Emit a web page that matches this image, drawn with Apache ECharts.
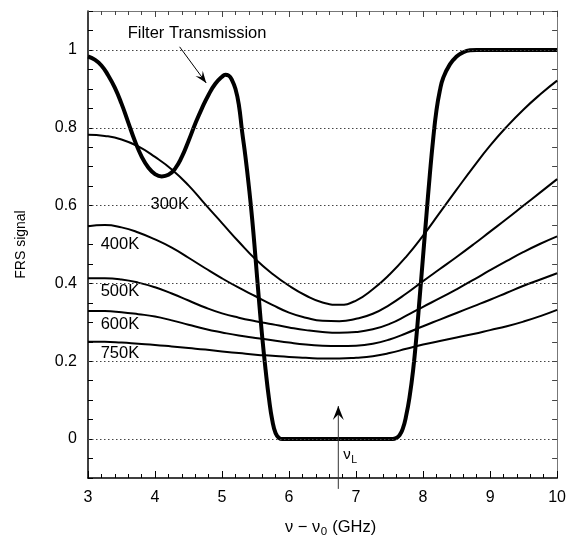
<!DOCTYPE html>
<html>
<head>
<meta charset="utf-8">
<script src="https://cdn.jsdelivr.net/npm/echarts@6/dist/echarts.min.js"></script>
<style>
  html, body { margin: 0; padding: 0; background: #fff; }
  #main { width: 569px; height: 545px; }
</style>
</head>
<body>
<div id="main"></div>
<script>
// temperature curves, read every 0.25 GHz
const tempX = [3, 3.25, 3.5, 3.75, 4, 4.25, 4.5, 4.75, 5, 5.25, 5.5, 5.75, 6, 6.25, 6.5, 6.75,
  7, 7.25, 7.5, 7.75, 8, 8.25, 8.5, 8.75, 9, 9.25, 9.5, 9.75, 10];
const k300 = [0.782, 0.779, 0.77, 0.752, 0.725, 0.693, 0.652, 0.603, 0.555, 0.507, 0.462, 0.425, 0.394, 0.369, 0.351, 0.345,
  0.356, 0.385, 0.423, 0.469, 0.523, 0.582, 0.641, 0.699, 0.754, 0.803, 0.847, 0.886, 0.921];
const k400 = [0.547, 0.55, 0.544, 0.531, 0.513, 0.492, 0.466, 0.439, 0.413, 0.389, 0.367, 0.345, 0.325, 0.312, 0.304, 0.303,
  0.309, 0.322, 0.345, 0.374, 0.406, 0.437, 0.468, 0.5, 0.533, 0.566, 0.6, 0.634, 0.668];
const k500 = [0.413, 0.413, 0.41, 0.402, 0.39, 0.374, 0.356, 0.338, 0.323, 0.312, 0.303, 0.295, 0.287, 0.28, 0.275, 0.273,
  0.275, 0.282, 0.296, 0.317, 0.34, 0.362, 0.385, 0.409, 0.434, 0.458, 0.481, 0.502, 0.521];
const k600 = [0.329, 0.329, 0.326, 0.321, 0.315, 0.305, 0.294, 0.283, 0.274, 0.266, 0.26, 0.254, 0.248, 0.243, 0.24, 0.239,
  0.24, 0.245, 0.256, 0.272, 0.29, 0.307, 0.324, 0.341, 0.358, 0.376, 0.394, 0.41, 0.426];
const k750 = [0.25, 0.25, 0.248, 0.245, 0.242, 0.238, 0.234, 0.23, 0.225, 0.221, 0.217, 0.214, 0.211, 0.209, 0.207, 0.207,
  0.209, 0.213, 0.221, 0.232, 0.243, 0.252, 0.261, 0.27, 0.28, 0.29, 0.302, 0.316, 0.332];

// filter transmission
const filterX = [3, 3.1, 3.2, 3.3, 3.4, 3.5, 3.6, 3.7, 3.8, 3.9, 4, 4.1, 4.2, 4.3, 4.4, 4.5, 4.6, 4.7, 4.8, 4.9,
  5, 5.05, 5.1, 5.15, 5.2, 5.25, 5.3, 5.35, 5.4, 5.45, 5.5, 5.55, 5.6, 5.65, 5.7, 5.75, 5.8, 5.85, 5.9, 6,
  7.5, 7.55, 7.6, 7.65, 7.7, 7.75, 7.8, 7.85, 7.9, 7.95, 8, 8.05, 8.1, 8.15, 8.2, 8.25, 8.3, 8.4, 8.5, 8.6, 8.7, 8.8, 9, 10];
const filterY = [0.983, 0.975, 0.96, 0.935, 0.903, 0.862, 0.814, 0.766, 0.726, 0.698, 0.681, 0.675, 0.679, 0.695, 0.725, 0.766, 0.81, 0.85, 0.885, 0.913,
  0.931, 0.936, 0.934, 0.922, 0.9, 0.86, 0.79, 0.725, 0.65, 0.565, 0.465, 0.36, 0.262, 0.178, 0.105, 0.048, 0.015, 0.003, 0, 0,
  0, 0, 0.003, 0.01, 0.028, 0.062, 0.11, 0.175, 0.262, 0.365, 0.47, 0.575, 0.678, 0.77, 0.845, 0.895, 0.928, 0.963, 0.983, 0.994, 0.999, 1, 1, 1];

const yTickValues = [0, 0.2, 0.4, 0.6, 0.8, 1];
const yTickLabels = ['0', '0.2', '0.4', '0.6', '0.8', '1'];
const tempNames = ['300K', '400K', '500K', '600K', '750K'];

const FONT = '"Liberation Sans", Arial, Helvetica, sans-serif';
const pts = (xs, ys) => xs.map((x, i) => [x, ys[i]]);

const chart = echarts.init(document.getElementById('main'));

const xCommon = { type: 'value', min: 3, max: 10, interval: 1, splitLine: { show: false } };
const yCommon = { type: 'value', min: -0.1, max: 1.1, interval: 0.05, splitLine: { show: false } };

const thin = (name, data) => ({
  name, type: 'line', data: pts(tempX, data), smooth: true, symbol: 'none', z: 3,
  lineStyle: { color: '#000', width: 2 }
});

chart.setOption({
  animation: false,
  grid: { left: 88, right: 10, top: 11, bottom: 67 },
  xAxis: [{
    ...xCommon,
    axisLine: { onZero: false, lineStyle: { color: '#000', width: 1.5 } },
    axisTick: { inside: true, length: 7, lineStyle: { color: '#000' } },
    minorTick: { show: true, splitNumber: 5, length: 4, lineStyle: { color: '#000' } },
    axisLabel: { color: '#000', fontSize: 16, fontFamily: FONT, margin: 12 }
  }, {
    ...xCommon, position: 'top',
    axisLine: { onZero: false, lineStyle: { color: '#777', width: 1 } },
    axisTick: { inside: true, length: 6, lineStyle: { color: '#444' } },
    minorTick: { show: true, splitNumber: 5, length: 4, lineStyle: { color: '#444' } },
    axisLabel: { show: false }
  }],
  yAxis: [{
    ...yCommon,
    name: 'FRS signal', nameLocation: 'middle', nameGap: 60, nameRotate: 90,
    nameTextStyle: { color: '#000', fontSize: 14, fontFamily: FONT },
    axisLine: { show: true, onZero: false, lineStyle: { color: '#000', width: 1.5 } },
    axisTick: { show: true, inside: true, length: 5, lineStyle: { color: '#000' } },
    axisLabel: {
      color: '#000', fontSize: 16, fontFamily: FONT, margin: 11,
      formatter: v => {
        const i = yTickValues.findIndex(t => Math.abs(t - v) < 1e-6);
        return i >= 0 ? yTickLabels[i] : '';
      }
    }
  }, {
    ...yCommon, position: 'right',
    axisLine: { show: true, onZero: false, lineStyle: { color: '#777', width: 1 } },
    axisTick: { show: true, inside: true, length: 5, lineStyle: { color: '#444' } },
    axisLabel: { show: false }
  }],
  series: [
    {
      name: 'grid', type: 'line', data: [], z: 1, silent: true,
      markLine: {
        silent: true, symbol: 'none', label: { show: false },
        lineStyle: { color: '#444', width: 1, type: [1.5, 2.5] },
        data: yTickValues.map(v => ({ yAxis: v }))
      }
    },
    thin(tempNames[0], k300),
    thin(tempNames[1], k400),
    thin(tempNames[2], k500),
    thin(tempNames[3], k600),
    thin(tempNames[4], k750),
    {
      name: 'Filter Transmission', type: 'line', data: pts(filterX, filterY), smooth: true,
      symbol: 'none', z: 4, lineStyle: { color: '#000', width: 4 }
    }
  ]
});

// annotations, anchored in data coordinates
const toPx = (x, y) => chart.convertToPixel({ xAxisIndex: 0, yAxisIndex: 0 }, [x, y]);
const ctx = document.createElement('canvas').getContext('2d');
const textW = (t, font) => { ctx.font = font; return ctx.measureText(t).width; };

function arrowHead(tip, from, len, half, notch) {
  const dx = tip[0] - from[0], dy = tip[1] - from[1];
  const d = Math.hypot(dx, dy), ux = dx / d, uy = dy / d, nx = -uy, ny = ux;
  const bx = tip[0] - ux * len, by = tip[1] - uy * len;
  return {
    type: 'polygon', z: 10,
    shape: { points: [tip, [bx + nx * half, by + ny * half], [tip[0] - ux * len * notch, tip[1] - uy * len * notch], [bx - nx * half, by - ny * half]] },
    style: { fill: '#000' }
  };
}
const txt = (text, p, size, align) => ({
  type: 'text', x: p[0], y: p[1], z: 10,
  style: { text, fill: '#000', font: size + 'px ' + FONT, textAlign: align || 'center', textVerticalAlign: 'middle' }
});

const labelPos = [[4.22, 0.603], [3.476, 0.5], [3.476, 0.38], [3.476, 0.295], [3.476, 0.22]];
const elements = tempNames.map((n, i) => txt(n, toPx(labelPos[i][0], labelPos[i][1]), 16.5));

// filter transmission label and arrow
elements.push(txt('Filter Transmission', toPx(4.627, 1.043), 16.5));
const fFrom = toPx(4.367, 1.008), fTip = toPx(4.764, 0.915);
elements.push({ type: 'line', z: 10, shape: { x1: fFrom[0], y1: fFrom[1], x2: fTip[0], y2: fTip[1] }, style: { stroke: '#000', lineWidth: 1 } });
elements.push(arrowHead(fTip, fFrom, 12, 4.5, 0.6));

// laser frequency arrow
const lFrom = toPx(6.735, -0.128), lTip = toPx(6.735, 0.085);
elements.push({ type: 'line', z: 10, shape: { x1: lFrom[0], y1: lFrom[1], x2: lTip[0], y2: lTip[1] }, style: { stroke: '#333', lineWidth: 1 } });
elements.push(arrowHead(lTip, lFrom, 14, 5.5, 0.6));
const nuPos = toPx(6.735, -0.041);
const nuFont = '15px ' + FONT;
elements.push(txt('ν', [nuPos[0] + 5, nuPos[1]], 15, 'left'));
elements.push(txt('L', [nuPos[0] + 5 + textW('ν', nuFont) + 0.5, nuPos[1] + 5], 10.5, 'left'));

// x axis title with subscript
const xl = 285, xy = 527, f16 = '16.5px ' + FONT, f11 = '11.5px ' + FONT;
const w1 = textW('ν − ν', f16), w2 = textW('0', f11);
elements.push(txt('ν − ν', [xl, xy], 16.5, 'left'));
elements.push(txt('0', [xl + w1 + 0.5, xy + 5], 11.5, 'left'));
elements.push(txt(' (GHz)', [xl + w1 + w2 + 1, xy], 16.5, 'left'));

chart.setOption({ graphic: { elements } });
</script>
</body>
</html>
